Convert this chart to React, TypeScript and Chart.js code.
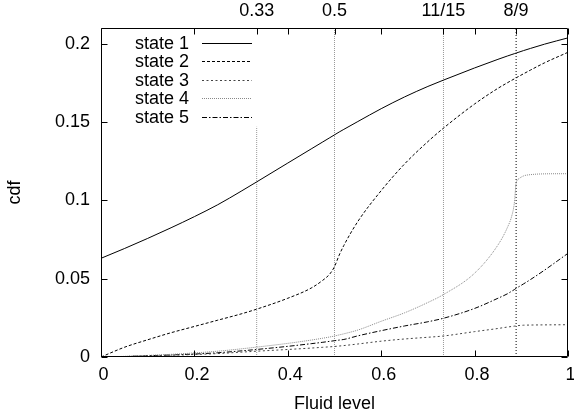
import React, { useEffect, useRef } from 'react';
import { Chart, registerables } from 'chart.js';

Chart.register(...registerables);

// ---- data ----
const fluidLevel = [0, 0.05, 0.1, 0.15, 0.2, 0.25, 0.3, 0.333, 0.4, 0.45, 0.475, 0.49, 0.5, 0.51, 0.52, 0.55, 0.6, 0.65, 0.7, 0.733, 0.8, 0.85, 0.87, 0.88, 0.885, 0.889, 0.895, 0.905, 0.92, 0.95, 1];
const state1 = [0.063, 0.0692, 0.0757, 0.0825, 0.0896, 0.0972, 0.1058, 0.1117, 0.1238, 0.1328, 0.1373, 0.14, 0.1418, 0.1436, 0.1453, 0.1503, 0.1585, 0.166, 0.1727, 0.1767, 0.1845, 0.19, 0.1921, 0.1931, 0.1936, 0.194, 0.1946, 0.1956, 0.197, 0.1997, 0.2037];
const state2 = [0, 0.0062, 0.011, 0.0155, 0.0195, 0.0235, 0.0275, 0.0305, 0.0375, 0.044, 0.049, 0.053, 0.0577, 0.065, 0.0712, 0.0865, 0.1062, 0.1232, 0.1375, 0.146, 0.1615, 0.1715, 0.175, 0.1767, 0.1775, 0.1782, 0.1792, 0.1808, 0.1832, 0.1878, 0.1945];
const state3 = [0, 0.0003, 0.0007, 0.0011, 0.0016, 0.0022, 0.0031, 0.0037, 0.0048, 0.0057, 0.0062, 0.0065, 0.0067, 0.007, 0.0073, 0.0083, 0.0101, 0.0115, 0.0126, 0.0134, 0.0162, 0.0182, 0.0191, 0.0195, 0.0197, 0.0199, 0.0201, 0.0203, 0.0204, 0.0205, 0.0206];
const state4 = [0, 0.0004, 0.001, 0.0017, 0.0026, 0.0037, 0.0052, 0.0063, 0.0087, 0.0108, 0.012, 0.0128, 0.0134, 0.0141, 0.0148, 0.0172, 0.0228, 0.0282, 0.0348, 0.0398, 0.0535, 0.0715, 0.0825, 0.0905, 0.098, 0.111, 0.1138, 0.1156, 0.1164, 0.1169, 0.117];
const state5 = [0, 0.0003, 0.0008, 0.0013, 0.0019, 0.0027, 0.0039, 0.0048, 0.0068, 0.0085, 0.0094, 0.01, 0.0104, 0.0108, 0.0112, 0.0135, 0.0168, 0.0198, 0.0225, 0.0247, 0.031, 0.0375, 0.0403, 0.0421, 0.043, 0.0439, 0.0449, 0.0467, 0.0495, 0.0555, 0.0662];
const stateLabels = ['state 1', 'state 2', 'state 3', 'state 4', 'state 5'];

const xTicks = [0, 0.2, 0.4, 0.6, 0.8, 1];
const xTickLabels = ['0', '0.2', '0.4', '0.6', '0.8', '1'];
const yTicks = [0, 0.05, 0.1, 0.15, 0.2];
const yTickLabels = ['0', '0.05', '0.1', '0.15', '0.2'];
const yMax = 0.21;

const markerX = [1 / 3, 0.5, 11 / 15, 8 / 9];
const markerLabels = ['0.33', '0.5', '11/15', '8/9'];
const markerTop = [0.147, 0.21, 0.21, 0.21];

// ---- styles ----
const FONT = '"Liberation Sans", Arial, Helvetica, sans-serif';
const stateStyles = [
  { color: '#000000', dash: [] as number[] },
  { color: '#000000', dash: [3, 2] },
  { color: '#444444', dash: [2, 2.5] },
  { color: '#888888', dash: [1, 1] },
  { color: '#000000', dash: [5, 2, 1.5, 2] },
];
const markerStyles = [
  { color: '#999999', dash: [1, 1] },
  { color: '#999999', dash: [1, 1] },
  { color: '#999999', dash: [1, 1] },
  { color: '#000000', dash: [1, 2] },
];

const frameLegendPlugin = {
  id: 'frameLegend',
  afterDraw(chart: any) {
    const { ctx, chartArea, scales } = chart;
    const { left, right, top, bottom } = chartArea;
    const tl = 6;
    ctx.save();
    ctx.strokeStyle = '#000';
    ctx.lineWidth = 1;
    ctx.setLineDash([]);
    ctx.beginPath();
    const L = Math.round(left) + 0.5;
    const R = Math.round(right) - 0.5;
    const T = Math.round(top) + 0.5;
    const B = Math.round(bottom) - 0.5;
    ctx.rect(L, T, R - L, B - T);
    xTicks.forEach((v) => {
      const px = Math.round(scales.x.getPixelForValue(v)) + 0.5;
      ctx.moveTo(px, B);
      ctx.lineTo(px, B - tl);
      ctx.moveTo(px, T);
      ctx.lineTo(px, T + tl);
    });
    markerX.forEach((v) => {
      const px = Math.round(scales.x2.getPixelForValue(v)) + 0.5;
      ctx.moveTo(px, T);
      ctx.lineTo(px, T + tl);
    });
    yTicks.forEach((v) => {
      const py = Math.round(scales.y.getPixelForValue(v)) + 0.5;
      ctx.moveTo(L, py);
      ctx.lineTo(L + tl, py);
      ctx.moveTo(R, py);
      ctx.lineTo(R - tl, py);
    });
    ctx.stroke();

    // legend (gnuplot style, inside top-left)
    ctx.font = `18px ${FONT}`;
    ctx.textAlign = 'right';
    ctx.textBaseline = 'middle';
    ctx.fillStyle = '#000';
    stateLabels.forEach((lab, i) => {
      const ly = Math.round(42.7 + i * 18.5) + 0.5;
      ctx.fillText(lab, 189, ly + 1);
      ctx.beginPath();
      ctx.strokeStyle = stateStyles[i].color;
      ctx.setLineDash(stateStyles[i].dash);
      ctx.moveTo(202, ly);
      ctx.lineTo(252, ly);
      ctx.stroke();
    });
    ctx.restore();
  },
};

export default function App() {
  const ref = useRef<HTMLCanvasElement>(null);
  useEffect(() => {
    Chart.defaults.font.family = FONT;
    Chart.defaults.font.size = 18;
    Chart.defaults.color = '#000';
    const series = [state1, state2, state3, state4, state5];
    const stateSets = series.map((s, i) => ({
      label: stateLabels[i],
      data: fluidLevel.map((x, j) => ({ x, y: s[j] })),
      borderColor: stateStyles[i].color,
      borderDash: stateStyles[i].dash,
      borderWidth: 1,
      pointRadius: 0,
      cubicInterpolationMode: 'monotone',
      fill: false,
      xAxisID: 'x',
      yAxisID: 'y',
    }));
    const markerSets = markerX.map((mx, i) => ({
      label: 'marker ' + markerLabels[i],
      data: [{ x: mx, y: 0 }, { x: mx, y: markerTop[i] }],
      borderColor: markerStyles[i].color,
      borderDash: markerStyles[i].dash,
      borderWidth: 1,
      pointRadius: 0,
      tension: 0,
      fill: false,
      xAxisID: 'x',
      yAxisID: 'y',
    }));
    const chart = new Chart(ref.current!, {
      type: 'line',
      data: { datasets: [...stateSets, ...markerSets] as any },
      options: {
        animation: false,
        responsive: false,
        devicePixelRatio: 1,
        layout: { padding: { left: 0, right: 6, top: 0, bottom: 0 } },
        plugins: { legend: { display: false }, tooltip: { enabled: false } },
        scales: {
          x: {
            type: 'linear',
            position: 'bottom',
            min: 0,
            max: 1,
            grid: { display: false, drawTicks: false },
            border: { display: false },
            ticks: {
              autoSkip: false,
              maxRotation: 0,
              padding: 7,
              labelOffset: 2.5,
              callback: (_v: any, i: number) => xTickLabels[i],
            },
            afterBuildTicks: (s: any) => {
              s.ticks = xTicks.map((value) => ({ value }));
            },
            afterFit: (s: any) => {
              s.height = 62;
              s.paddingLeft = 0;
              s.paddingRight = 0;
            },
            title: { display: true, text: 'Fluid level', padding: { top: 0, bottom: 4 } },
          },
          x2: {
            type: 'linear',
            position: 'top',
            min: 0,
            max: 1,
            grid: { display: false, drawTicks: false },
            border: { display: false },
            ticks: {
              autoSkip: false,
              maxRotation: 0,
              padding: 6,
              callback: (_v: any, i: number) => markerLabels[i],
            },
            afterBuildTicks: (s: any) => {
              s.ticks = markerX.map((value) => ({ value }));
            },
            afterFit: (s: any) => {
              s.height = 28;
              s.paddingLeft = 0;
              s.paddingRight = 0;
            },
          },
          y: {
            type: 'linear',
            position: 'left',
            min: 0,
            max: yMax,
            grid: { display: false, drawTicks: false },
            border: { display: false },
            ticks: {
              autoSkip: false,
              padding: 11,
              callback: (_v: any, i: number) => yTickLabels[i],
            },
            afterBuildTicks: (s: any) => {
              s.ticks = yTicks.map((value) => ({ value }));
            },
            afterFit: (s: any) => {
              s.width = 101;
              s.paddingTop = 0;
              s.paddingBottom = 0;
            },
            title: { display: true, text: 'cdf', padding: { top: 4, bottom: 0 } },
          },
        },
      } as any,
      plugins: [frameLegendPlugin],
    });
    return () => chart.destroy();
  }, []);
  return (
    <div style={{ position: 'absolute', left: 0, top: 0, width: 574, height: 419, background: '#fff' }}>
      <canvas ref={ref} width={574} height={419} style={{ display: 'block', width: 574, height: 419 }} />
    </div>
  );
}
